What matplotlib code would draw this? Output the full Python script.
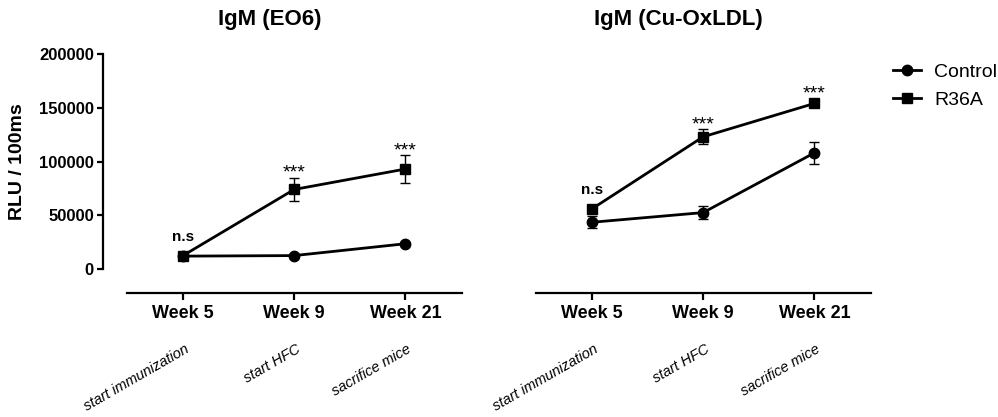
import matplotlib
matplotlib.use("Agg")
import matplotlib.pyplot as plt
from matplotlib.lines import Line2D

plt.rcParams['font.family'] = ['Liberation Sans', 'DejaVu Sans']

weeks = ['Week 5', 'Week 9', 'Week 21']
events = ['start immunization', 'start HFC', 'sacrifice mice']
sig_labels = ['n.s', '***', '***']

# IgM (EO6)
eo6_ctrl = [12000, 12500, 23500]
eo6_ctrl_err = [1000, 1200, 1500]
eo6_r36a = [12500, 74000, 93000]
eo6_r36a_err = [1500, 11000, 13000]

# IgM (Cu-OxLDL)
ox_ctrl = [43500, 52500, 108000]
ox_ctrl_err = [5500, 6300, 10000]
ox_r36a = [56000, 123000, 154000]
ox_r36a_err = [4000, 7000, 1500]

panels = [
    ('IgM (EO6)', eo6_ctrl, eo6_ctrl_err, eo6_r36a, eo6_r36a_err),
    ('IgM (Cu-OxLDL)', ox_ctrl, ox_ctrl_err, ox_r36a, ox_r36a_err),
]

W, H = 998, 417
fig = plt.figure(figsize=(W / 100, H / 100), dpi=100)

ax_bottom = 1 - 293 / H
ax_height = (293 - 54) / H
ax_width = 359 / W
lefts = [103 / W, 512 / W]

for k, (title, ctrl, ctrl_err, r36, r36_err) in enumerate(panels):
    ax = fig.add_axes([lefts[k], ax_bottom, ax_width, ax_height])
    x = list(range(len(weeks)))

    ax.errorbar(x, ctrl, yerr=ctrl_err, color='black', lw=2, marker='o', ms=7.5,
                elinewidth=1, capsize=3.5, capthick=1, zorder=3)
    ax.errorbar(x, r36, yerr=r36_err, color='black', lw=2, marker='s', ms=7,
                elinewidth=1, capsize=3.5, capthick=1, zorder=4)

    ax.set_xlim(-0.72, 2.51)
    ax.set_ylim(-22300, 200000)

    for s in ['top', 'right']:
        ax.spines[s].set_visible(False)
    ax.spines['bottom'].set_bounds(-0.5, 2.51)
    ax.spines['bottom'].set_linewidth(1.6)
    ax.spines['left'].set_linewidth(1.6)
    ax.spines['left'].set_bounds(0, 200000)

    ax.set_xticks(x)
    ax.set_xticklabels(weeks, fontsize=13, fontweight='bold')
    ax.tick_params(axis='x', length=5, width=1.6, pad=3.5)

    if k == 0:
        ax.set_yticks([0, 50000, 100000, 150000, 200000])
        ax.set_yticklabels(['0', '50000', '100000', '150000', '200000'],
                           fontsize=12, fontweight='bold')
        ax.tick_params(axis='y', length=4.5, width=1.6, pad=2)
    else:
        ax.spines['left'].set_visible(False)
        ax.set_yticks([])

    # significance marks above R36A
    for i, lab in enumerate(sig_labels):
        top = r36[i] + max(r36_err[i], 4650)
        if lab == 'n.s':
            ax.annotate(lab, xy=(i, top), xytext=(0, 7), textcoords='offset points',
                        ha='center', va='baseline', fontsize=11, fontweight='bold')
        else:
            ax.annotate(lab, xy=(i, top), xytext=(0, 0), textcoords='offset points',
                        ha='center', va='baseline', fontsize=14)

    # rotated event labels under the week ticks
    for i, ev in enumerate(events):
        ax.annotate(ev, xy=(i, 0), xycoords=('data', 'axes fraction'),
                    xytext=(5, -42.5), textcoords='offset points',
                    rotation=30, rotation_mode='anchor', ha='right', va='baseline',
                    fontsize=10.5, style='italic')

    ax.annotate(title, xy=(0.78, 1), xycoords=('data', 'figure fraction'),
                xytext=(0, -20 * 0.72), textcoords='offset points',
                ha='center', va='center', fontsize=16, fontweight='bold')

fig.text(18 / W, 1 - 162 / H, 'RLU / 100ms', rotation=90, ha='center', va='center',
         fontsize=14, fontweight='bold')

handles = [
    Line2D([], [], color='black', lw=2, marker='o', ms=7.5),
    Line2D([], [], color='black', lw=2, marker='s', ms=7),
]
fig.legend(handles, ['Control', 'R36A'], loc='upper left',
           bbox_to_anchor=(893 / W, 1 - 63.5 / H), frameon=False, fontsize=14,
           borderpad=0, borderaxespad=0, handlelength=1.45, handletextpad=0.67,
           labelspacing=0.54, numpoints=1)

fig.savefig('out.png', dpi=100)
